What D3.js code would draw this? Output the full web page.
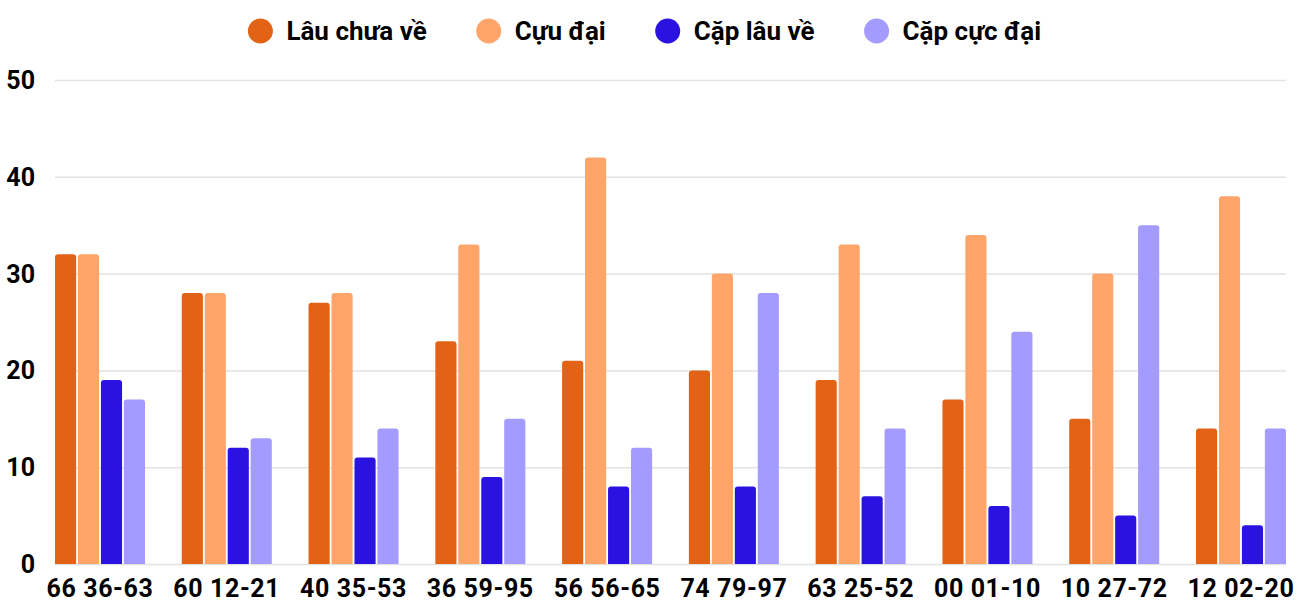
<!DOCTYPE html>
<html>
<head>
<meta charset="utf-8">
<script src="https://cdn.jsdelivr.net/npm/d3@7"></script>
<style>
  body { margin: 0; background: #fff; }
  svg text { font-family: Roboto, "Noto Sans", sans-serif; font-weight: 700; fill: #000; }
</style>
</head>
<body>
<svg id="chart" width="1300" height="600"></svg>
<script>
// categories along the x axis
const categories = ["66 36-63", "60 12-21", "40 35-53", "36 59-95", "56 56-65",
  "74 79-97", "63 25-52", "00 01-10", "10 27-72", "12 02-20"];

const seriesNames = ["Lâu chưa về", "Cựu đại", "Cặp lâu về", "Cặp cực đại"];
const seriesColors = ["#e26316", "#ffa56a", "#2a13e0", "#a39bff"];

const lauChuaVe = [32, 28, 27, 23, 21, 20, 19, 17, 15, 14];
const cuuDai = [32, 28, 28, 33, 42, 30, 33, 34, 30, 38];
const capLauVe = [19, 12, 11, 9, 8, 8, 7, 6, 5, 4];
const capCucDai = [17, 13, 14, 15, 12, 28, 14, 24, 35, 14];

const yTicks = [0, 10, 20, 30, 40, 50];

const allSeries = [lauChuaVe, cuuDai, capLauVe, capCucDai];

const svg = d3.select("#chart");
const plotLeft = 55, plotRight = 1286, plotTop = 80, plotBottom = 564;

const x = d3.scaleBand().domain(categories).range([plotLeft, plotRight])
  .paddingInner(0.29).paddingOuter(0);
const xInner = d3.scaleBand().domain(d3.range(seriesNames.length))
  .range([0, x.bandwidth()]).paddingInner(0.08);
const y = d3.scaleLinear().domain([0, 50]).range([plotBottom, plotTop]);

// gridlines
svg.append("g").selectAll("line").data(yTicks).join("line")
  .attr("x1", plotLeft).attr("x2", plotRight)
  .attr("y1", d => y(d) + 0.5).attr("y2", d => y(d) + 0.5)
  .attr("stroke", "#e2e2e2").attr("stroke-width", 1.5);

// y labels
svg.append("g").selectAll("text").data(yTicks).join("text")
  .attr("x", 35).attr("y", d => y(d))
  .attr("dy", "0.36em")
  .attr("text-anchor", "end")
  .attr("font-size", 25)
  .text(d => d);

// top-rounded bar path
function barPath(x0, y0, w, h, r) {
  r = Math.min(r, h, w / 2);
  return `M${x0},${y0 + h}V${y0 + r}Q${x0},${y0} ${x0 + r},${y0}` +
    `H${x0 + w - r}Q${x0 + w},${y0} ${x0 + w},${y0 + r}V${y0 + h}Z`;
}

const groups = svg.append("g").selectAll("g").data(categories).join("g")
  .attr("transform", d => `translate(${x(d)},0)`);

groups.selectAll("path")
  .data((c, i) => allSeries.map((s, k) => ({ k, v: s[i] })))
  .join("path")
  .attr("fill", d => seriesColors[d.k])
  .attr("d", d => barPath(xInner(d.k), y(d.v), xInner.bandwidth(), plotBottom - y(d.v), 3));

// x labels
svg.append("g").selectAll("text").data(categories).join("text")
  .attr("x", d => x(d) + x.bandwidth() / 2)
  .attr("y", 597)
  .attr("text-anchor", "middle")
  .attr("font-size", 25)
  .attr("letter-spacing", 0.6)
  .text(d => d);

// legend
const legend = svg.append("g");
let cx = 0;
seriesNames.forEach((name, i) => {
  const item = legend.append("g").attr("transform", `translate(${cx},0)`);
  item.append("circle").attr("cx", 12).attr("cy", 31).attr("r", 12.5)
    .attr("fill", seriesColors[i]);
  const t = item.append("text").attr("x", 38).attr("y", 31).attr("dy", "0.36em")
    .attr("font-size", 26).text(name);
  cx += 38 + t.node().getComputedTextLength() + 50;
});
const lw = legend.node().getBBox().width;
legend.attr("transform", `translate(${645 - lw / 2},0)`);
</script>
</body>
</html>
